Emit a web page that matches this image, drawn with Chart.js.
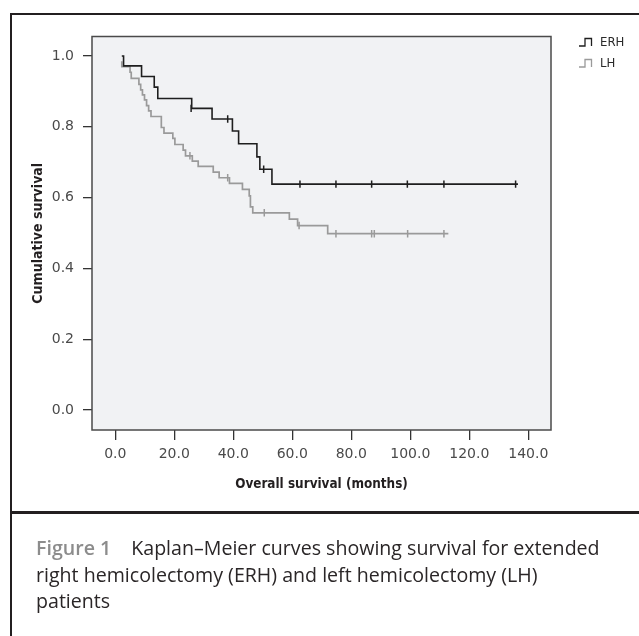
<!DOCTYPE html>
<html>
<head>
<meta charset="utf-8">
<script src="https://cdn.jsdelivr.net/npm/chart.js@4.4.0/dist/chart.umd.min.js"></script>
<style>
  html, body { margin: 0; padding: 0; background: #fff; }
  #wrap { position: relative; width: 639px; height: 636px; overflow: hidden; }
  #km { position: absolute; left: 0; top: 0; }
  .frame { position: absolute; left: 10px; top: 13px; width: 700px; height: 700px; border: 2px solid #231f20; box-sizing: border-box; }
  .divider { position: absolute; left: 10px; top: 511px; width: 700px; height: 2.5px; background: #231f20; }
  .caption { position: absolute; left: 36px; top: 535px; font-family: "Open Sans", sans-serif; font-size: 19.6px; line-height: 26.5px; color: #2a2627; white-space: nowrap; }
  .caption b { color: #8c8c8c; font-weight: 600; margin-right: 20px; }
</style>
</head>
<body>
<div id="wrap">
  <canvas id="km" width="639" height="636"></canvas>
  <div class="frame"></div>
  <div class="divider"></div>
  <div class="caption"><b>Figure 1</b>Kaplan–Meier curves showing survival for extended<br>right hemicolectomy (ERH) and left hemicolectomy (LH)<br>patients</div>
</div>
<script>
// -------------------------------
// DATA
// -------------------------------
const seriesLabels = ["ERH", "LH"];
const xTicks = [0, 20, 40, 60, 80, 100, 120, 140];
const yTicks = [0, 0.2, 0.4, 0.6, 0.8, 1.0];

// ERH step curve (time in months, cumulative survival)
const erhTime = [2.2, 2.8, 8.9, 13.2, 14.4, 25.9, 32.8, 39.7, 41.8, 48.0, 49.0, 53.1, 136.5];
const erhSurv = [1.0, 0.972, 0.942, 0.912, 0.880, 0.852, 0.822, 0.788, 0.752, 0.715, 0.680, 0.638, 0.638];
const erhCensorTime = [25.7, 38.1, 50.3, 62.6, 74.8, 86.9, 99.0, 111.4, 135.7];
const erhCensorSurv = [0.852, 0.822, 0.680, 0.638, 0.638, 0.638, 0.638, 0.638, 0.638];

// LH step curve
const lhTime = [2.2, 2.2, 5.0, 5.4, 8.0, 8.6, 9.2, 9.9, 10.6, 11.3, 12.1, 15.6, 16.5, 19.5, 20.2, 23.0, 23.8, 26.1, 28.1, 33.2, 35.2, 38.7, 43.1, 45.4, 45.8, 46.6, 59.0, 61.8, 72.0, 112.9];
const lhSurv = [0.985, 0.970, 0.954, 0.937, 0.920, 0.904, 0.890, 0.876, 0.860, 0.845, 0.829, 0.798, 0.782, 0.767, 0.750, 0.734, 0.718, 0.703, 0.688, 0.672, 0.656, 0.640, 0.623, 0.605, 0.574, 0.557, 0.539, 0.521, 0.498, 0.498];
const lhCensorTime = [25.3, 38.1, 50.5, 62.3, 74.8, 86.9, 87.8, 99.1, 111.4];
const lhCensorSurv = [0.718, 0.656, 0.557, 0.521, 0.498, 0.498, 0.498, 0.498, 0.498];

const ERH_COLOR = "#1e1e1e";
const LH_COLOR = "#9a9a9a";
const TICK_FONT = { family: "'DejaVu Sans', sans-serif", size: 14 };
const TITLE_FAMILY = "'Liberation Sans Narrow', 'DejaVu Sans Condensed', 'Arial Narrow', sans-serif";

const toPoints = (xs, ys) => xs.map((x, i) => ({ x: x, y: ys[i] }));

// -------------------------------
// PLUGINS
// -------------------------------
const plotFrame = {
    id: "plotFrame",
    beforeDraw(chart) {
        const { ctx, chartArea: a } = chart;
        ctx.save();
        ctx.fillStyle = "#f1f2f4";
        ctx.fillRect(a.left, a.top, a.right - a.left, a.bottom - a.top);
        ctx.restore();
    },
    afterDatasetsDraw(chart) {
        const { ctx, chartArea: a } = chart;
        ctx.save();
        ctx.strokeStyle = "#4a4a4a";
        ctx.lineWidth = 1.5;
        ctx.strokeRect(a.left, a.top, a.right - a.left, a.bottom - a.top);
        ctx.restore();
    }
};

// SPSS-style legend with little step icons
const stepLegend = {
    id: "stepLegend",
    afterDraw(chart) {
        const ctx = chart.ctx;
        const colors = [ERH_COLOR, LH_COLOR];
        ctx.save();
        seriesLabels.forEach((label, i) => {
            const bx = 579, by = 46 + i * 21;
            ctx.strokeStyle = colors[i];
            ctx.lineWidth = 1.3;
            ctx.beginPath();
            ctx.moveTo(bx, by);
            ctx.lineTo(bx + 6, by);
            ctx.lineTo(bx + 6, by - 7.5);
            ctx.lineTo(bx + 12.5, by - 7.5);
            ctx.lineTo(bx + 12.5, by);
            ctx.stroke();
            ctx.fillStyle = "#2a2a2a";
            ctx.font = "13px " + TITLE_FAMILY;
            ctx.textBaseline = "middle";
            ctx.fillText(label, 600, by - 3);
        });
        ctx.restore();
    }
};

// -------------------------------
// CHART
// -------------------------------
const censorStyle = { showLine: false, pointStyle: "line", rotation: 90, pointRadius: 3.7, pointHoverRadius: 3.7, pointBorderWidth: 1.5 };

new Chart(document.getElementById("km"), {
    type: "line",
    data: {
        datasets: [
            { label: seriesLabels[0], data: toPoints(erhTime, erhSurv), stepped: true, borderColor: ERH_COLOR, borderWidth: 1.6, pointRadius: 0, fill: false },
            { label: seriesLabels[0] + " censored", data: toPoints(erhCensorTime, erhCensorSurv), borderColor: ERH_COLOR, ...censorStyle },
            { label: seriesLabels[1], data: toPoints(lhTime, lhSurv), stepped: true, borderColor: LH_COLOR, borderWidth: 1.7, pointRadius: 0, fill: false },
            { label: seriesLabels[1] + " censored", data: toPoints(lhCensorTime, lhCensorSurv), borderColor: LH_COLOR, ...censorStyle }
        ]
    },
    options: {
        responsive: false,
        animation: false,
        layout: { padding: { left: 0, top: 36.5, right: 88, bottom: 136 } },
        plugins: { legend: { display: false }, tooltip: { enabled: false } },
        scales: {
            x: {
                type: "linear",
                min: -7.9,
                max: 147.7,
                afterBuildTicks: s => { s.ticks = xTicks.map(v => ({ value: v })); },
                afterFit: s => { s.height = 70; },
                grid: { display: true, drawOnChartArea: false, drawTicks: true, tickLength: 10, color: "#333", lineWidth: 1.3 },
                border: { display: false },
                ticks: { color: "#4a4a4a", font: TICK_FONT, padding: 6, maxRotation: 0, callback: v => Number(v).toFixed(1) },
                title: { display: true, text: "Overall survival (months)", color: "#231f20", font: { family: TITLE_FAMILY, size: 13.4, weight: "bold" }, padding: { top: 0, bottom: 7.8 } }
            },
            y: {
                type: "linear",
                min: -0.0565,
                max: 1.055,
                afterBuildTicks: s => { s.ticks = yTicks.map(v => ({ value: v })); },
                afterFit: s => { s.width = 92; },
                grid: { display: true, drawOnChartArea: false, drawTicks: true, tickLength: 9, color: "#333", lineWidth: 1.3 },
                border: { display: false },
                ticks: { color: "#4a4a4a", font: TICK_FONT, padding: 9, callback: v => Number(v).toFixed(1) },
                title: { display: true, text: "Cumulative survival", color: "#231f20", font: { family: TITLE_FAMILY, size: 14, weight: "bold" }, padding: { top: 29.6, bottom: 0 } }
            }
        }
    },
    plugins: [plotFrame, stepLegend]
});
</script>
</body>
</html>
